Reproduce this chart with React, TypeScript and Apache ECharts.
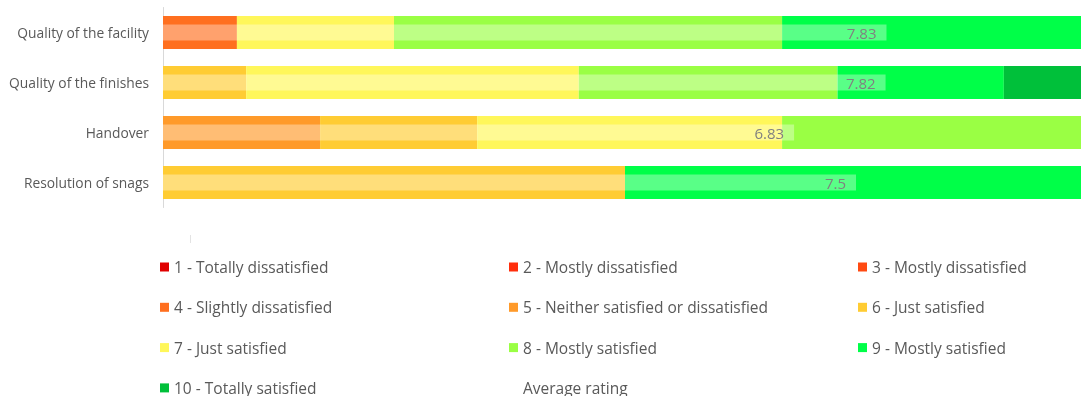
import React, { useEffect, useRef } from "react";
import * as echarts from "echarts";

// Survey topics, top to bottom
const categories = [
  "Quality of the facility",
  "Quality of the finishes",
  "Handover",
  "Resolution of snags",
];

// Share of responses (%) per rating, one value per topic
const rating1 = [0, 0, 0, 0];
const rating2 = [0, 0, 0, 0];
const rating3 = [0, 0, 0, 0];
const rating4 = [8, 0, 0, 0];
const rating5 = [0, 0, 17, 0];
const rating6 = [0, 9, 17, 50];
const rating7 = [17, 36, 33, 0];
const rating8 = [42, 28, 33, 0];
const rating9 = [33, 18, 0, 50];
const rating10 = [0, 9, 0, 0];

// Mean score out of 10
const averageRating = [7.83, 7.82, 6.83, 7.5];

const ratingNames = [
  "1 - Totally dissatisfied",
  "2 - Mostly dissatisfied",
  "3 - Mostly dissatisfied",
  "4 - Slightly dissatisfied",
  "5 - Neither satisfied or dissatisfied",
  "6 - Just satisfied",
  "7 - Just satisfied",
  "8 - Mostly satisfied",
  "9 - Mostly satisfied",
  "10 - Totally satisfied",
];
const averageName = "Average rating";

const ratingColors = [
  "#E00000",
  "#FF2E0C",
  "#FF4A12",
  "#FF6F1F",
  "#FF9A2A",
  "#FFCC33",
  "#FFF75A",
  "#9AFF44",
  "#00FF48",
  "#00C03A",
];

const ratingData = [
  rating1, rating2, rating3, rating4, rating5,
  rating6, rating7, rating8, rating9, rating10,
];

const FONT = "'Open Sans', sans-serif";
const TEXT = "#595959";

export default function App() {
  const ref = useRef<HTMLDivElement>(null);

  useEffect(() => {
    if (!ref.current) return;
    const chart = echarts.init(ref.current, null, { renderer: "svg" });

    const stacked = ratingData.map((data, i) => ({
      name: ratingNames[i],
      type: "bar",
      stack: "ratings",
      xAxisIndex: 0,
      yAxisIndex: 0,
      barWidth: 33,
      data,
      itemStyle: { color: ratingColors[i] },
    }));

    const legendText = {
      color: TEXT,
      fontFamily: FONT,
      fontSize: 15.5,
      lineHeight: 20,
    };
    const legendBase = {
      orient: "vertical",
      top: 257,
      height: 180,
      padding: 0,
      itemGap: 20.3,
      itemWidth: 9,
      itemHeight: 9,
      icon: "rect",
      selectedMode: false,
      textStyle: legendText,
    };

    chart.setOption({
      animation: false,
      textStyle: { fontFamily: FONT },
      grid: {
        left: 163,
        top: 7.5,
        width: 924,
        height: 200,
        outerBoundsMode: "none",
        containLabel: false,
      },
      xAxis: [
        { type: "value", min: 0, max: 100, show: false },
        { type: "value", min: 0, max: 10, show: false },
      ],
      yAxis: [
        {
          type: "category",
          data: categories,
          inverse: true,
          axisLine: { show: true, lineStyle: { color: "#D9D9D9" } },
          axisTick: { show: false },
          axisLabel: { color: TEXT, fontFamily: FONT, fontSize: 13.8, margin: 14 },
        },
        {
          type: "category",
          data: categories,
          inverse: true,
          position: "left",
          show: false,
        },
      ],
      legend: [
        {
          ...legendBase,
          left: 160,
          data: [ratingNames[0], ratingNames[3], ratingNames[6], ratingNames[9]],
        },
        {
          ...legendBase,
          left: 509,
          data: [ratingNames[1], ratingNames[4], ratingNames[7], averageName],
        },
        {
          ...legendBase,
          left: 858,
          data: [ratingNames[2], ratingNames[5], ratingNames[8]],
        },
      ],
      graphic: [
        {
          type: "line",
          shape: { x1: 190.5, y1: 235, x2: 190.5, y2: 243 },
          style: { stroke: "#E3E3E3", lineWidth: 1 },
        },
      ],
      series: [
        ...stacked,
        {
          name: averageName,
          type: "bar",
          xAxisIndex: 1,
          yAxisIndex: 1,
          barWidth: 16,
          data: averageRating,
          itemStyle: { color: "rgba(255,255,255,0.35)" },
          label: {
            show: true,
            position: "insideRight",
            distance: 10,
            color: "#808080",
            fontFamily: FONT,
            fontSize: 15,
            formatter: (p: any) => String(p.value),
          },
          z: 5,
        },
      ],
    });

    return () => chart.dispose();
  }, []);

  return (
    <div
      ref={ref}
      style={{ position: "fixed", left: 0, top: 0, width: 1081, height: 396 }}
    />
  );
}
